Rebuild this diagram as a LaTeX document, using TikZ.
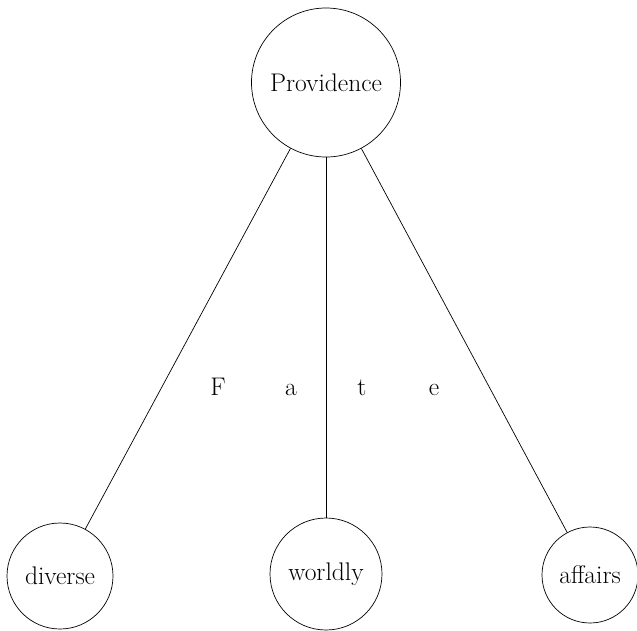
\documentclass[tikz,border=0pt]{standalone}
\begin{document}
\begin{tikzpicture}[x=1pt,y=-1pt,
  circ/.style={draw,circle,inner sep=0pt,line width=0.7pt,font=\fontsize{25.5}{30}\selectfont},
  lbl/.style={inner sep=0pt,anchor=base,font=\fontsize{25.5}{30}\selectfont},
  conn/.style={line width=0.7pt}]
\useasboundingbox (0,0) rectangle (637,630);
\node[circ,minimum size=149pt] (prov) at (326,82.5) {Providence};
\node[circ,minimum size=106pt] (div) at (60,576) {diverse};
\node[circ,minimum size=112pt] (world) at (326,574) {worldly};
\node[circ,minimum size=96pt] (aff) at (590,575) {affairs};
\draw[conn] (prov) -- (div);
\draw[conn] (prov) -- (world);
\draw[conn] (prov) -- (aff);
\node[lbl] (f) at (218,395) {F};
\node[lbl] (a) at (291,395) {a};
\node[lbl] (t) at (362,395) {t};
\node[lbl] (e) at (434,395) {e};
\end{tikzpicture}
\end{document}
